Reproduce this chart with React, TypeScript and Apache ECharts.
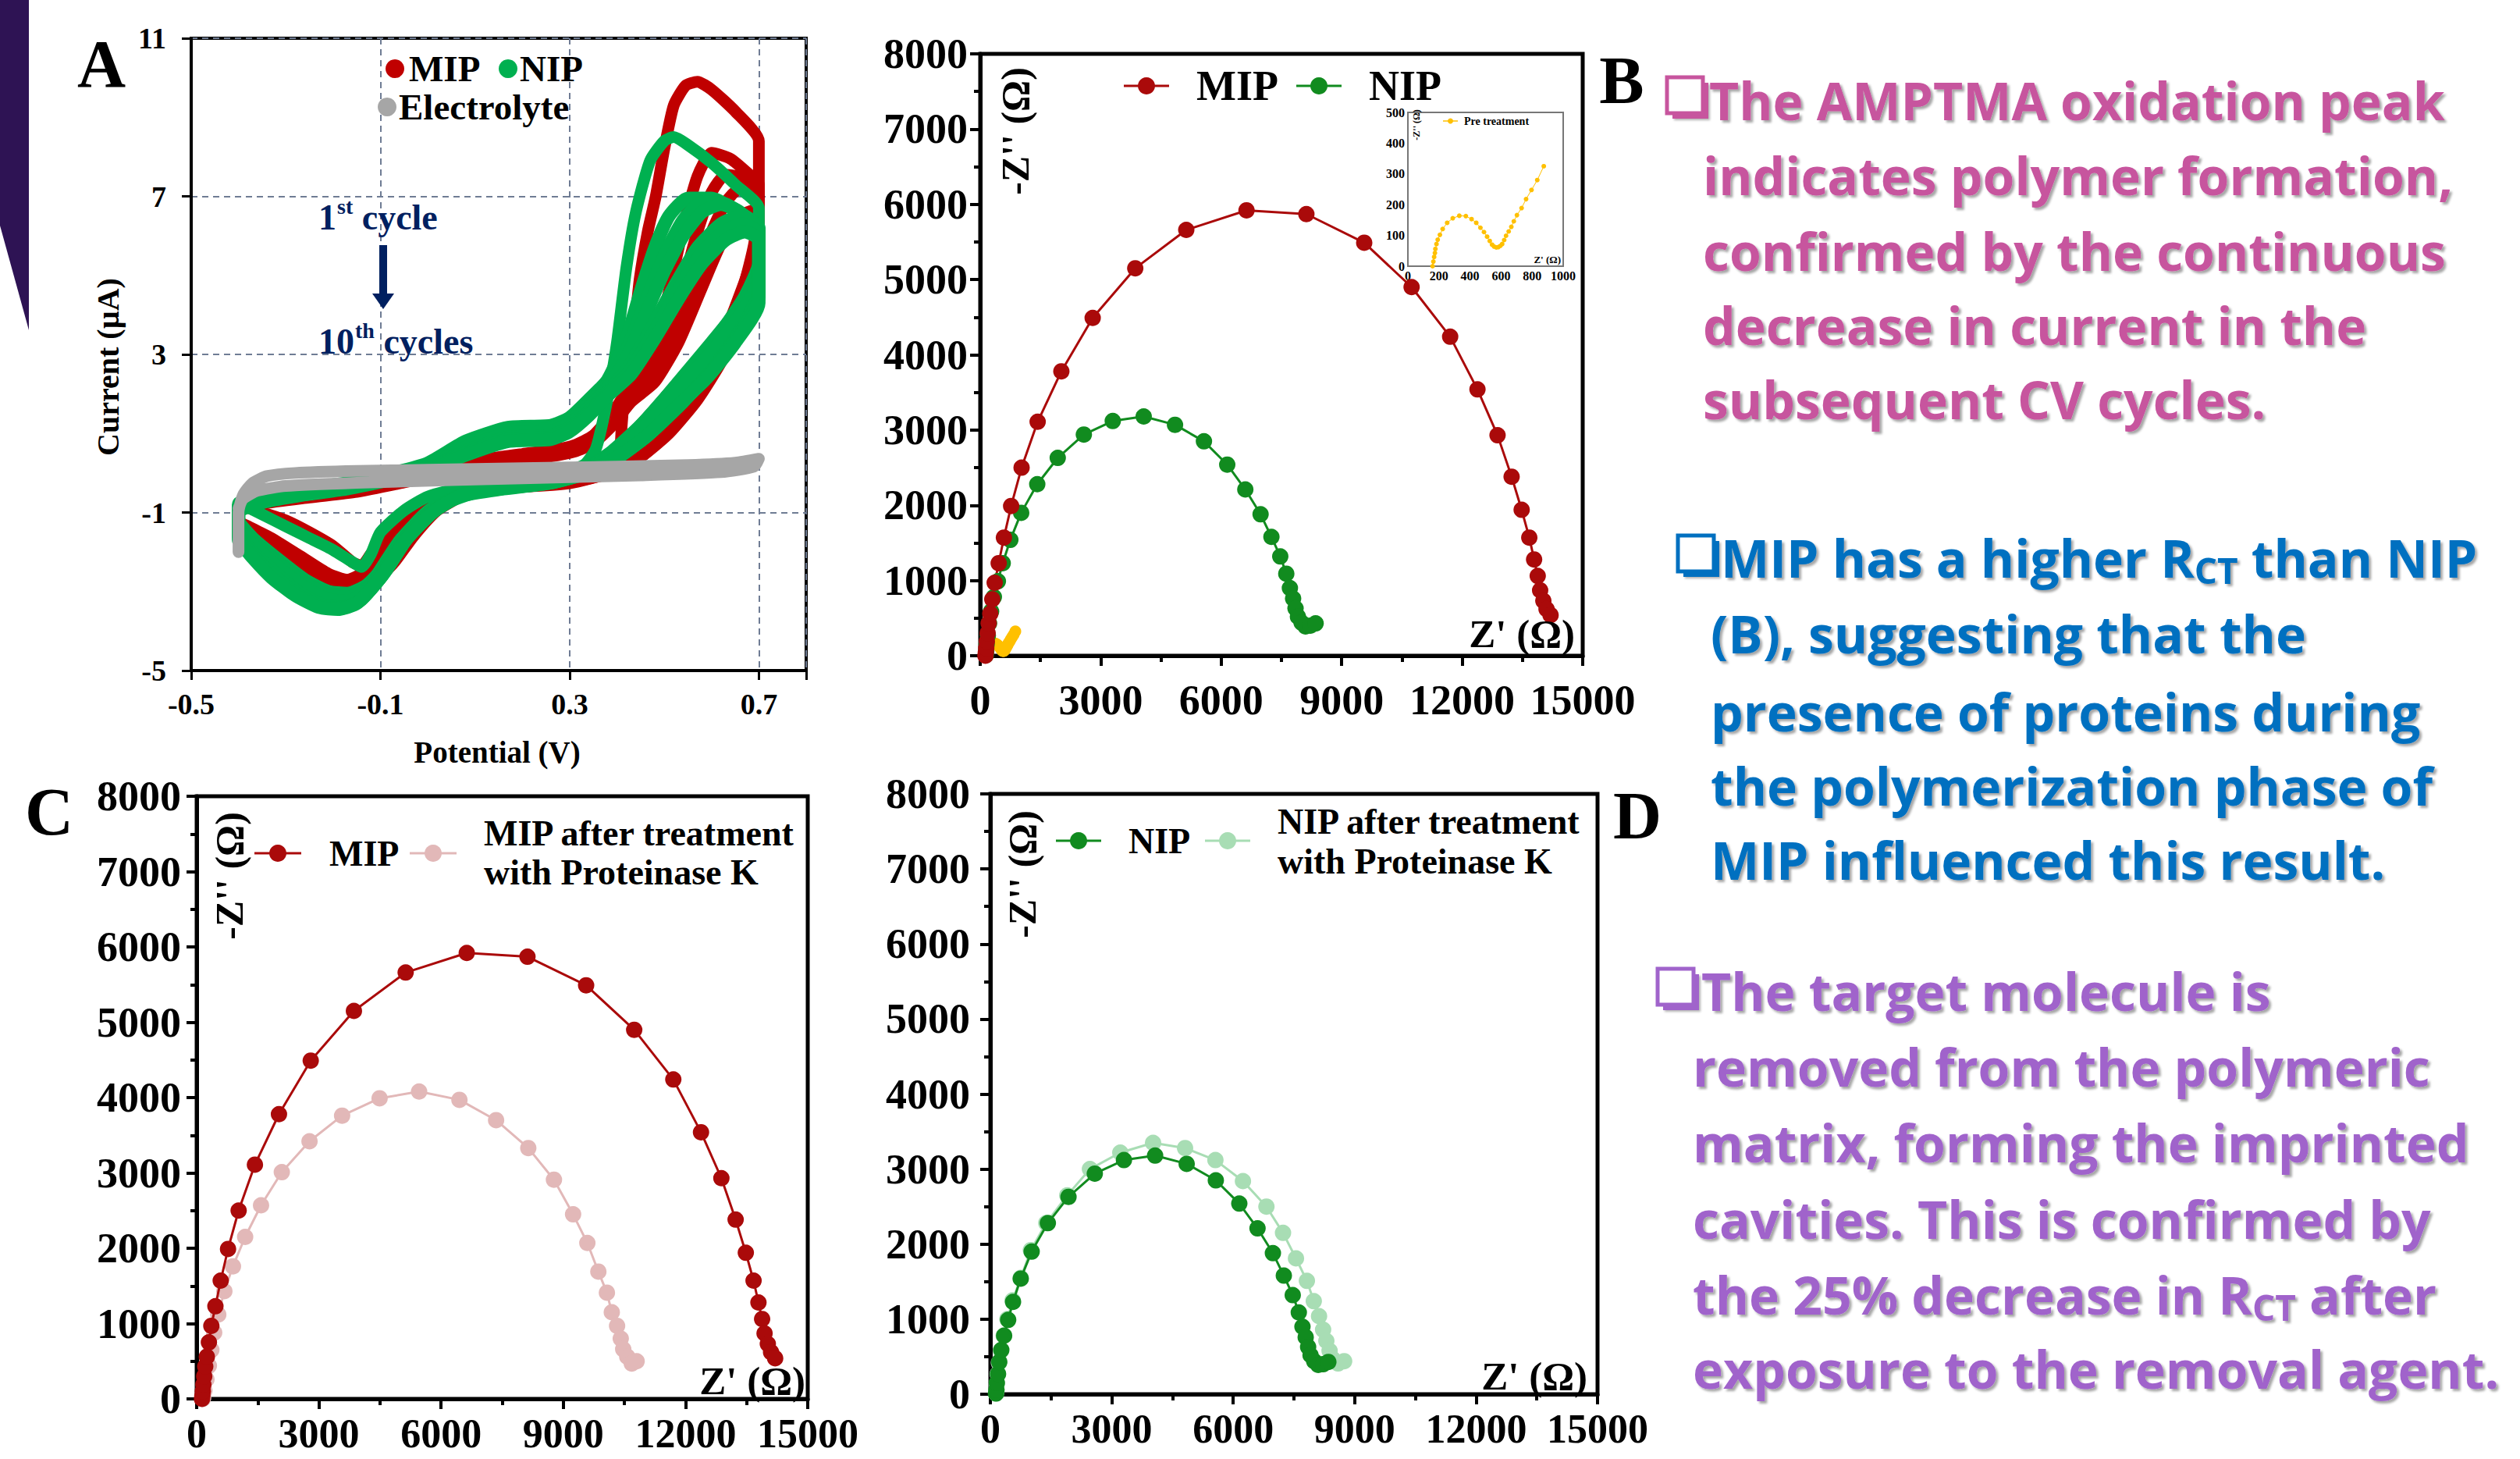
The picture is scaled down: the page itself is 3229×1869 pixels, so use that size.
import React, { useEffect, useRef } from "react";
import * as echarts from "echarts";

const SERIF = "'Liberation Serif', 'Times New Roman', serif";
const SANS = "'Open Sans', 'Noto Sans', sans-serif";

// ---------------- Panel A : cyclic voltammetry [Potential (V), Current (µA)] ----------------
const cvMipCycle1: number[][] = [
  [-0.40, -0.80], [-0.35, -1.00], [-0.30, -1.20], [-0.25, -1.50], [-0.20, -1.85], [-0.16, -2.25], [-0.14, -2.35],
  [-0.12, -2.05], [-0.08, -1.50], [-0.03, -0.95], [0.05, -0.50], [0.15, -0.25], [0.25, -0.05], [0.33, 0.10],
  [0.38, 0.25], [0.405, 0.50], [0.41, 1.20], [0.415, 1.90], [0.425, 2.50], [0.435, 3.40], [0.448, 4.90],
  [0.465, 6.10], [0.482, 7.00], [0.50, 8.20], [0.52, 9.30], [0.545, 9.80], [0.57, 9.90], [0.60, 9.70],
  [0.65, 9.15], [0.70, 8.40],
  [0.70, 7.00], [0.69, 5.80], [0.66, 4.40], [0.62, 3.30], [0.57, 2.30], [0.52, 1.50], [0.47, 0.80], [0.42, 0.30],
  [0.35, -0.05], [0.25, -0.25], [0.12, -0.38], [0.04, -0.55], [-0.02, -0.95], [-0.07, -1.55], [-0.11, -2.15],
  [-0.14, -2.55], [-0.17, -2.70], [-0.21, -2.55], [-0.27, -2.10], [-0.33, -1.65], [-0.38, -1.35], [-0.40, -1.20], [-0.40, -0.80],
];
const cvMipCycle2: number[][] = [
  [-0.40, -1.25], [-0.40, -0.85], [-0.35, -0.70], [-0.25, -0.55], [-0.15, -0.38], [-0.05, -0.10], [0.05, 0.15],
  [0.13, 0.36], [0.20, 0.48], [0.26, 0.57], [0.31, 0.70], [0.35, 0.95], [0.39, 1.50], [0.42, 2.05], [0.45, 2.40],
  [0.48, 3.10], [0.51, 4.60], [0.54, 6.20], [0.57, 7.50], [0.60, 8.10], [0.64, 7.95], [0.68, 7.55], [0.70, 7.30],
  [0.70, 6.30], [0.68, 5.20], [0.64, 3.90], [0.60, 2.90], [0.55, 1.90], [0.49, 1.00], [0.44, 0.40], [0.37, 0.00],
  [0.28, -0.22], [0.15, -0.33], [0.06, -0.50], [-0.01, -0.95], [-0.06, -1.60], [-0.10, -2.25], [-0.13, -2.65],
  [-0.17, -2.85], [-0.22, -2.70], [-0.28, -2.20], [-0.34, -1.75], [-0.38, -1.45], [-0.40, -1.25],
];
const cvMipCycle3: number[][] = [
  [-0.40, -1.35], [-0.40, -0.90], [-0.35, -0.72], [-0.25, -0.58], [-0.15, -0.42], [-0.05, -0.15], [0.05, 0.10],
  [0.13, 0.30], [0.20, 0.42], [0.26, 0.50], [0.31, 0.62], [0.35, 0.85], [0.39, 1.35], [0.42, 1.90], [0.46, 2.30],
  [0.50, 3.20], [0.54, 4.80], [0.57, 6.10], [0.60, 7.10], [0.63, 7.55], [0.67, 7.45], [0.70, 7.10],
  [0.70, 5.70], [0.68, 4.80], [0.65, 3.80], [0.61, 2.80], [0.56, 1.85], [0.50, 0.95], [0.45, 0.40], [0.38, 0.00],
  [0.29, -0.24], [0.16, -0.36], [0.07, -0.52], [0.00, -0.95], [-0.05, -1.60], [-0.09, -2.25], [-0.12, -2.65],
  [-0.16, -2.80], [-0.21, -2.65], [-0.27, -2.20], [-0.33, -1.80], [-0.38, -1.50], [-0.40, -1.35],
];
const cvMipCycle4: number[][] = [
  [-0.40, -1.40], [-0.40, -0.95], [-0.35, -0.75], [-0.25, -0.60], [-0.15, -0.45], [-0.05, -0.20], [0.05, 0.05],
  [0.13, 0.26], [0.20, 0.38], [0.26, 0.46], [0.31, 0.58], [0.35, 0.80], [0.39, 1.25], [0.43, 1.85], [0.47, 2.30],
  [0.52, 3.40], [0.56, 4.80], [0.60, 6.10], [0.63, 6.85], [0.66, 7.20], [0.70, 7.00],
  [0.70, 5.30], [0.67, 4.30], [0.63, 3.20], [0.58, 2.15], [0.52, 1.20], [0.46, 0.50], [0.40, 0.05], [0.30, -0.24],
  [0.17, -0.36], [0.08, -0.52], [0.01, -0.95], [-0.04, -1.60], [-0.08, -2.25], [-0.11, -2.65], [-0.15, -2.80],
  [-0.20, -2.70], [-0.26, -2.25], [-0.32, -1.85], [-0.38, -1.55], [-0.40, -1.40],
];
const cvMipCycle5: number[][] = [
  [-0.40, -1.45], [-0.40, -1.00], [-0.35, -0.78], [-0.25, -0.62], [-0.15, -0.48], [-0.05, -0.24], [0.05, 0.02],
  [0.13, 0.22], [0.20, 0.34], [0.26, 0.42], [0.31, 0.54], [0.35, 0.75], [0.39, 1.20], [0.43, 1.80], [0.48, 2.30],
  [0.53, 3.30], [0.58, 4.70], [0.62, 5.80], [0.66, 6.50], [0.70, 6.70],
  [0.70, 5.00], [0.66, 3.80], [0.62, 2.80], [0.57, 1.85], [0.51, 1.00], [0.45, 0.40], [0.39, 0.02], [0.30, -0.26],
  [0.17, -0.38], [0.08, -0.55], [0.02, -0.95], [-0.03, -1.60], [-0.07, -2.25], [-0.10, -2.60], [-0.14, -2.78],
  [-0.19, -2.70], [-0.25, -2.30], [-0.31, -1.90], [-0.37, -1.60], [-0.40, -1.45],
];

const cvNipCycle1: number[][] = [
  [-0.40, -0.75], [-0.35, -1.05], [-0.30, -1.35], [-0.25, -1.65], [-0.20, -1.95], [-0.16, -2.25], [-0.14, -2.38],
  [-0.12, -2.05], [-0.10, -1.50], [-0.05, -0.95], [0.00, -0.60], [0.08, -0.35], [0.18, -0.15], [0.27, 0.00],
  [0.33, 0.20], [0.355, 0.60], [0.37, 1.30], [0.385, 2.20], [0.40, 3.30], [0.42, 5.20], [0.44, 6.60], [0.47, 7.90],
  [0.50, 8.40], [0.52, 8.50], [0.55, 8.30], [0.60, 7.85], [0.65, 7.30], [0.70, 6.70],
  [0.70, 5.40], [0.67, 4.50], [0.62, 3.60], [0.56, 2.70], [0.50, 1.90], [0.44, 1.10], [0.38, 0.45], [0.33, 0.05],
  [0.25, -0.20], [0.15, -0.33], [0.06, -0.55], [0.00, -0.95], [-0.06, -1.70], [-0.11, -2.60], [-0.15, -3.20],
  [-0.19, -3.35], [-0.24, -3.15], [-0.30, -2.55], [-0.36, -1.90], [-0.40, -1.45], [-0.40, -0.75],
];
const cvNipCycle2: number[][] = [
  [-0.40, -1.25], [-0.40, -0.80], [-0.35, -0.58], [-0.26, -0.40], [-0.17, -0.25], [-0.09, -0.05], [0.00, 0.25],
  [0.08, 0.80], [0.17, 1.15], [0.26, 1.20], [0.30, 1.40], [0.34, 1.85], [0.38, 2.35], [0.42, 3.40], [0.45, 4.60],
  [0.48, 5.70], [0.51, 6.50], [0.55, 6.95], [0.60, 6.95], [0.65, 6.65], [0.70, 6.20],
  [0.70, 5.20], [0.67, 4.40], [0.63, 3.70], [0.58, 2.90], [0.52, 2.10], [0.45, 1.20], [0.39, 0.55], [0.34, 0.15],
  [0.28, -0.12], [0.18, -0.30], [0.09, -0.45], [0.02, -0.85], [-0.04, -1.50], [-0.09, -2.35], [-0.13, -2.85],
  [-0.17, -3.05], [-0.21, -3.00], [-0.26, -2.70], [-0.32, -2.15], [-0.37, -1.65], [-0.40, -1.25],
];
const cvNipCycle3: number[][] = [
  [-0.40, -1.30], [-0.40, -0.85], [-0.35, -0.62], [-0.26, -0.43], [-0.17, -0.28], [-0.09, -0.08], [0.00, 0.20],
  [0.08, 0.72], [0.17, 1.08], [0.26, 1.12], [0.30, 1.32], [0.34, 1.75], [0.38, 2.25], [0.42, 3.10], [0.46, 4.30],
  [0.50, 5.50], [0.54, 6.40], [0.58, 6.85], [0.63, 6.80], [0.67, 6.50], [0.70, 6.10],
  [0.70, 5.05], [0.66, 4.20], [0.60, 3.30], [0.53, 2.30], [0.47, 1.45], [0.41, 0.70], [0.35, 0.20], [0.29, -0.10],
  [0.20, -0.30], [0.10, -0.44], [0.03, -0.80], [-0.03, -1.45], [-0.085, -2.30], [-0.13, -2.95], [-0.17, -3.15],
  [-0.21, -3.10], [-0.26, -2.80], [-0.32, -2.25], [-0.37, -1.72], [-0.40, -1.30],
];
const cvNipCycle4: number[][] = [
  [-0.40, -1.40], [-0.40, -0.90], [-0.35, -0.65], [-0.26, -0.45], [-0.17, -0.30], [-0.09, -0.10], [0.00, 0.15],
  [0.08, 0.65], [0.17, 1.00], [0.26, 1.05], [0.30, 1.25], [0.34, 1.65], [0.38, 2.15], [0.42, 2.90], [0.46, 4.00],
  [0.50, 5.10], [0.54, 6.00], [0.58, 6.60], [0.62, 6.80], [0.66, 6.60], [0.70, 6.00],
  [0.70, 4.90], [0.66, 4.00], [0.61, 3.20], [0.55, 2.40], [0.49, 1.60], [0.43, 0.85], [0.37, 0.30], [0.31, -0.05],
  [0.22, -0.28], [0.12, -0.42], [0.04, -0.75], [-0.03, -1.40], [-0.08, -2.30], [-0.13, -3.00], [-0.17, -3.25],
  [-0.21, -3.20], [-0.26, -2.90], [-0.32, -2.35], [-0.37, -1.80], [-0.40, -1.40],
];
const cvNipCycle5: number[][] = [
  [-0.40, -1.55], [-0.40, -0.95], [-0.35, -0.70], [-0.26, -0.50], [-0.17, -0.35], [-0.09, -0.15], [0.00, 0.10],
  [0.08, 0.55], [0.17, 0.90], [0.26, 0.95], [0.30, 1.15], [0.34, 1.55], [0.38, 2.05], [0.42, 2.60], [0.47, 3.60],
  [0.52, 4.70], [0.57, 5.70], [0.62, 6.30], [0.66, 6.50], [0.70, 6.20],
  [0.70, 4.60], [0.66, 3.60], [0.60, 2.60], [0.54, 1.80], [0.47, 1.00], [0.41, 0.45], [0.35, 0.05], [0.27, -0.22],
  [0.17, -0.36], [0.08, -0.52], [0.02, -0.90], [-0.04, -1.60], [-0.09, -2.50], [-0.14, -3.20], [-0.18, -3.40],
  [-0.22, -3.35], [-0.27, -3.05], [-0.32, -2.55], [-0.37, -2.00], [-0.40, -1.55],
];
const cvNipCycle6: number[][] = [
  [-0.40, -1.62], [-0.40, -0.98], [-0.35, -0.72], [-0.26, -0.52], [-0.17, -0.38], [-0.09, -0.18], [0.00, 0.08],
  [0.08, 0.50], [0.17, 0.85], [0.26, 0.90], [0.30, 1.10], [0.34, 1.50], [0.38, 2.00], [0.425, 2.55], [0.475, 3.50],
  [0.525, 4.55], [0.575, 5.50], [0.625, 6.10], [0.665, 6.30], [0.70, 6.05],
  [0.70, 4.45], [0.655, 3.45], [0.595, 2.50], [0.53, 1.70], [0.465, 0.95], [0.405, 0.42], [0.345, 0.03], [0.265, -0.24],
  [0.165, -0.38], [0.075, -0.55], [0.015, -0.95], [-0.045, -1.68], [-0.095, -2.58], [-0.145, -3.25], [-0.185, -3.43],
  [-0.225, -3.38], [-0.275, -3.08], [-0.325, -2.60], [-0.37, -2.08], [-0.40, -1.62],
];
const cvNipCycle7: number[][] = [
  [-0.40, -1.70], [-0.40, -1.00], [-0.35, -0.75], [-0.26, -0.55], [-0.17, -0.40], [-0.09, -0.20], [0.00, 0.05],
  [0.08, 0.45], [0.17, 0.80], [0.26, 0.85], [0.30, 1.05], [0.34, 1.45], [0.38, 1.95], [0.43, 2.50], [0.48, 3.40],
  [0.53, 4.40], [0.58, 5.30], [0.63, 5.90], [0.67, 6.10], [0.70, 5.90],
  [0.70, 4.30], [0.65, 3.30], [0.59, 2.40], [0.52, 1.60], [0.46, 0.90], [0.40, 0.40], [0.34, 0.02], [0.26, -0.25],
  [0.16, -0.40], [0.07, -0.58], [0.01, -1.00], [-0.05, -1.75], [-0.10, -2.65], [-0.15, -3.30], [-0.19, -3.45],
  [-0.23, -3.40], [-0.28, -3.10], [-0.33, -2.65], [-0.37, -2.15], [-0.40, -1.70],
];
const cvElectrolyte: number[][] = [
  [-0.40, -2.00], [-0.40, -1.50], [-0.40, -1.00], [-0.39, -0.55], [-0.37, -0.25], [-0.34, -0.08], [-0.28, 0.00],
  [-0.15, 0.05], [0.00, 0.08], [0.20, 0.12], [0.40, 0.16], [0.55, 0.20], [0.65, 0.26], [0.70, 0.36],
  [0.69, 0.16], [0.62, 0.02], [0.45, -0.06], [0.25, -0.12], [0.05, -0.18], [-0.15, -0.25], [-0.30, -0.33],
  [-0.36, -0.45], [-0.39, -0.65], [-0.40, -0.90],
];
const cvPotentialTicks = [-0.5, -0.1, 0.3, 0.7];
const cvCurrentTicks = [-5, -1, 3, 7, 11];

// ---------------- Nyquist data [Z' (Ω), -Z'' (Ω)] ----------------
const mipImpedance: number[][] = [
  [130, 0], [140, 40], [150, 100], [165, 190], [185, 300], [210, 430], [250, 560], [300, 750], [360, 970],
  [460, 1230], [590, 1570], [770, 1990], [1030, 2500], [1430, 3110], [2020, 3780], [2800, 4490], [3860, 5150],
  [5130, 5660], [6630, 5920], [8120, 5870], [9560, 5490], [10740, 4900], [11700, 4240], [12380, 3540],
  [12880, 2930], [13230, 2380], [13480, 1940], [13670, 1570], [13790, 1280], [13880, 1060], [13940, 870],
  [14020, 730], [14100, 620], [14200, 540],
];
const nipImpedance: number[][] = [
  [140, 10], [150, 60], [160, 150], [190, 270], [220, 430], [270, 590], [340, 780], [440, 990], [560, 1230],
  [750, 1540], [1020, 1900], [1420, 2280], [1930, 2630], [2580, 2940], [3300, 3120], [4070, 3180], [4850, 3070],
  [5570, 2850], [6150, 2540], [6600, 2210], [6980, 1880], [7250, 1580], [7470, 1320], [7620, 1090], [7710, 900],
  [7790, 760], [7850, 630], [7910, 520], [8000, 440], [8100, 390], [8220, 400], [8350, 430],
];
const mipAfterProteinaseK: number[][] = [
  [150, 0], [160, 20], [190, 110], [240, 260], [300, 440], [360, 650], [430, 880], [530, 1120], [680, 1430],
  [890, 1760], [1190, 2150], [1580, 2570], [2090, 3010], [2770, 3420], [3570, 3760], [4490, 3990], [5460, 4080],
  [6450, 3970], [7350, 3700], [8140, 3330], [8770, 2910], [9240, 2450], [9590, 2070], [9860, 1690], [10070, 1410],
  [10190, 1150], [10320, 970], [10410, 800], [10470, 660], [10570, 560], [10680, 470], [10800, 500],
];
const nipAfterProteinaseK: number[][] = [
  [140, 10], [150, 40], [160, 140], [180, 270], [210, 420], [260, 580], [330, 780], [420, 1000], [550, 1250],
  [750, 1550], [1000, 1920], [1380, 2280], [1900, 2650], [2460, 3000], [3210, 3220], [4020, 3350], [4810, 3280],
  [5560, 3120], [6240, 2840], [6820, 2500], [7230, 2150], [7550, 1810], [7820, 1510], [7990, 1240], [8120, 1040],
  [8220, 860], [8300, 710], [8380, 580], [8460, 470], [8590, 410], [8740, 440],
];
const preTreatment: number[][] = [
  [159, 0], [164, 15], [169, 30], [174, 43], [177, 56], [184, 72], [192, 86], [206, 102], [224, 121], [253, 141],
  [289, 156], [331, 164], [373, 163], [410, 153], [440, 141], [467, 125], [490, 111], [510, 96], [527, 82],
  [542, 70], [555, 64], [569, 61], [582, 62], [595, 66], [607, 72], [620, 85], [632, 99], [649, 113], [666, 128],
  [682, 146], [702, 166], [732, 189], [761, 218], [796, 248], [833, 280], [875, 325],
];

// ---------------- Notes (right column) ----------------
const note1Lines = [
  "The AMPTMA oxidation peak",
  "indicates polymer formation,",
  "confirmed by the continuous",
  "decrease in current in the",
  "subsequent CV cycles.",
];
const note2Lines = [
  "MIP has a higher R_{CT} than NIP",
  "(B), suggesting that the",
  "presence of proteins during",
  "the polymerization phase of",
  "MIP influenced this result.",
];
const note3Lines = [
  "The target molecule is",
  "removed from the polymeric",
  "matrix, forming the imprinted",
  "cavities. This is confirmed by",
  "the 25% decrease in R_{CT} after",
  "exposure to the removal agent.",
];

// ---------------- colours ----------------
const C_MIP_CV = "#C00000";
const C_NIP_CV = "#00B050";
const C_ELEC = "#A6A6A6";
const C_MIP = "#AA0A0A";
const C_NIP = "#118B1F";
const C_MIP_T = "#E2B8B8";
const C_NIP_T = "#A8DDB4";
const C_YEL = "#FFC000";
const C_NAVY = "#002060";
const C_PINK = "#C7559E";
const C_BLUE = "#0070C0";
const C_PURPLE = "#A064CB";

let measureCtx: CanvasRenderingContext2D | null = null;
function measure(text: string, font: string): number {
  if (!measureCtx) measureCtx = document.createElement("canvas").getContext("2d");
  if (!measureCtx) return text.length * 30;
  measureCtx.font = font;
  return measureCtx.measureText(text).width;
}

function serifText(text: string, x: number, y: number, size: number, opts: any = {}) {
  return {
    type: "text",
    x,
    y,
    rotation: opts.rotation || 0,
    z: 100,
    style: {
      text,
      fill: opts.color || "#000",
      fontSize: size,
      fontWeight: "bold",
      fontFamily: SERIF,
      align: opts.align || "left",
      verticalAlign: opts.verticalAlign || "middle",
      textAlign: opts.align || "left",
      textVerticalAlign: opts.verticalAlign || "middle",
    },
  };
}

// text with sub (_{..}) handled through measured advances
function noteLine(str: string, x: number, y: number, color: string, size: number) {
  const parts = str.split(/_\{|\}/);
  const out: any[] = [];
  let cx = x;
  parts.forEach((p, i) => {
    const sub = i % 2 === 1;
    const fs = sub ? Math.round(size * 0.7) : size;
    const font = `bold ${fs}px ${SANS}`;
    const lead = p.length - p.replace(/^\s+/, "").length;
    const leadW = lead ? measure(p.slice(0, lead), font) : 0;
    const trimmed = p.trim();
    if (trimmed) {
      out.push({
        type: "text",
        x: cx + leadW,
        y: y + (sub ? size * 0.24 : 0),
        z: 100,
        style: {
          text: trimmed,
          fill: color,
          fontSize: fs,
          fontWeight: "bold",
          fontFamily: SANS,
          align: "left",
          verticalAlign: "middle",
          textShadowColor: "rgba(0,0,0,0.35)",
          textShadowBlur: 3,
          textShadowOffsetX: 3,
          textShadowOffsetY: 3,
        },
      });
    }
    cx += measure(p, font);
  });
  return out;
}

function bullet(x: number, y: number, color: string) {
  return [
    { type: "rect", z: 99, shape: { x: x + 7, y: y + 7, width: 46, height: 46 }, style: { fill: color, shadowColor: "rgba(0,0,0,0.3)", shadowBlur: 3, shadowOffsetX: 2, shadowOffsetY: 2 } },
    { type: "rect", z: 100, shape: { x, y, width: 46, height: 46 }, style: { fill: "#fff", stroke: color, lineWidth: 5 } },
  ];
}

function supText(base: string, sup: string, rest: string, x: number, y: number, size: number, color: string) {
  const f1 = `bold ${size}px ${SERIF}`;
  const fs = Math.round(size * 0.6);
  const f2 = `bold ${fs}px ${SERIF}`;
  const w1 = measure(base, f1);
  const w2 = measure(sup, f2);
  const sp = measure(" ", f1);
  return [
    serifText(base, x, y, size, { color }),
    serifText(sup, x + w1 + 1, y - size * 0.3, fs, { color }),
    serifText(rest, x + w1 + w2 + sp + 1, y, size, { color }),
  ];
}

function legendItem(x1: number, x2: number, y: number, color: string, r: number, lw: number) {
  return [
    { type: "line", z: 100, shape: { x1, y1: y, x2, y2: y }, style: { stroke: color, lineWidth: lw } },
    { type: "circle", z: 101, shape: { cx: (x1 + x2) / 2, cy: y, r }, style: { fill: color } },
  ];
}

const plain = (v: number) => String(v);

export default function App() {
  const ref = useRef<HTMLDivElement>(null);

  useEffect(() => {
    document.body.style.margin = "0";
    if (!ref.current) return;
    const chart = echarts.init(ref.current, undefined, { renderer: "svg" });

    const X0 = cvPotentialTicks[0];
    const Y0 = cvCurrentTicks[0];
    const xStep = cvPotentialTicks[1] - cvPotentialTicks[0];
    const yStep = cvCurrentTicks[1] - cvCurrentTicks[0];
    const xSpan = 0.8 - X0;
    const ySpan = cvCurrentTicks[cvCurrentTicks.length - 1] - Y0;
    const shiftCv = (arr: number[][]) => arr.map(([v, i]) => [v - X0, i - Y0]);

    const tickLabel = (size: number, margin: number) => ({
      color: "#000",
      fontFamily: SERIF,
      fontWeight: "bold",
      fontSize: size,
      margin,
      formatter: plain,
    });

    const nyqX = (gridIndex: number, size: number, margin: number) => ({
      gridIndex,
      type: "value",
      min: 0,
      max: 15000,
      interval: 3000,
      axisLine: { show: true, onZero: false, lineStyle: { color: "#000", width: 5 } },
      axisTick: { show: true, inside: false, length: 13, lineStyle: { color: "#000", width: 4 } },
      minorTick: { show: true, splitNumber: 2, length: 8, lineStyle: { color: "#000", width: 4 } },
      axisLabel: tickLabel(size, margin),
      splitLine: { show: false },
    });
    const nyqY = (gridIndex: number, margin: number) => ({
      gridIndex,
      type: "value",
      min: 0,
      max: 8000,
      interval: 1000,
      axisLine: { show: true, onZero: false, lineStyle: { color: "#000", width: 5 } },
      axisTick: { show: true, inside: false, length: 13, lineStyle: { color: "#000", width: 4 } },
      minorTick: { show: true, splitNumber: 2, length: 8, lineStyle: { color: "#000", width: 4 } },
      axisLabel: tickLabel(54, margin),
      splitLine: { show: false },
    });

    const cvLine = (name: string, data: number[][], color: string, width: number) => ({
      name,
      type: "line",
      xAxisIndex: 0,
      yAxisIndex: 0,
      data: shiftCv(data),
      showSymbol: false,
      symbol: "none",
      smooth: 0.2,
      lineStyle: { color, width, cap: "round", join: "round" },
      itemStyle: { color },
      z: 3,
    });

    const nyq = (name: string, data: number[][], idx: number, color: string, size: number, lw: number, z = 3) => ({
      name,
      type: "line",
      xAxisIndex: idx,
      yAxisIndex: idx,
      data,
      symbol: "circle",
      symbolSize: size,
      showSymbol: true,
      lineStyle: { color, width: lw },
      itemStyle: { color },
      z,
    });

    const graphics: any[] = [];
    // left decorative shape
    graphics.push({ type: "polygon", z: 50, shape: { points: [[0, 0], [37, 0], [37, 423], [0, 289]] }, style: { fill: "#2E1354" } });

    // panel letters
    graphics.push(serifText("A", 130, 82, 86, { align: "center" }));
    graphics.push(serifText("B", 2078, 103, 86, { align: "center" }));
    graphics.push(serifText("C", 63, 1040, 86, { align: "center" }));
    graphics.push(serifText("D", 2098, 1045, 86, { align: "center" }));

    // Panel A legend + annotations + axis names
    graphics.push({ type: "circle", z: 101, shape: { cx: 506, cy: 88, r: 12 }, style: { fill: C_MIP_CV } });
    graphics.push(serifText("MIP", 524, 88, 47));
    graphics.push({ type: "circle", z: 101, shape: { cx: 651, cy: 88, r: 12 }, style: { fill: C_NIP_CV } });
    graphics.push(serifText("NIP", 666, 88, 47));
    graphics.push({ type: "circle", z: 101, shape: { cx: 496, cy: 137, r: 12 }, style: { fill: C_ELEC } });
    graphics.push(serifText("Electrolyte", 511, 137, 47));
    graphics.push(...supText("1", "st", "cycle", 408, 278, 46, C_NAVY));
    graphics.push(...supText("10", "th", "cycles", 408, 437, 46, C_NAVY));
    graphics.push({ type: "rect", z: 100, shape: { x: 486, y: 314, width: 10, height: 64 }, style: { fill: C_NAVY } });
    graphics.push({ type: "polygon", z: 100, shape: { points: [[477, 376], [505, 376], [491, 396]] }, style: { fill: C_NAVY } });
    graphics.push(serifText("Potential (V)", 637, 963, 39, { align: "center" }));
    graphics.push(serifText("Current (µA)", 138, 470, 40, { align: "center", rotation: Math.PI / 2 }));

    // Panel B legend / labels
    graphics.push(...legendItem(1440, 1498, 110, C_MIP, 11, 3));
    graphics.push(serifText("MIP", 1533, 110, 54));
    graphics.push(...legendItem(1661, 1719, 110, C_NIP, 11, 3));
    graphics.push(serifText("NIP", 1754, 110, 54));
    graphics.push(serifText("-Z'' (Ω)", 1301, 168, 50, { align: "center", rotation: Math.PI / 2 }));
    graphics.push(serifText("Z' (Ω)", 2018, 812, 51, { align: "right" }));
    // inset labels
    graphics.push(serifText("-Z'' (Ω)", 1815, 160, 12, { align: "center", rotation: Math.PI / 2 }));
    graphics.push(...legendItem(1849, 1868, 155, C_YEL, 3.5, 1.5));
    graphics.push(serifText("Pre treatment", 1876, 155, 14));
    graphics.push(serifText("Z' (Ω)", 2000, 332, 13, { align: "right" }));

    // Panel C legend / labels
    graphics.push(...legendItem(326, 386, 1093, C_MIP, 11, 3));
    graphics.push(serifText("MIP", 422, 1093, 46));
    graphics.push(...legendItem(525, 585, 1093, C_MIP_T, 11, 3));
    graphics.push(serifText("MIP after treatment", 620, 1067, 46));
    graphics.push(serifText("with Proteinase K", 620, 1117, 46));
    graphics.push(serifText("-Z'' (Ω)", 294, 1122, 50, { align: "center", rotation: Math.PI / 2 }));
    graphics.push(serifText("Z' (Ω)", 1032, 1769, 51, { align: "right" }));

    // Panel D legend / labels
    graphics.push(...legendItem(1353, 1411, 1077, C_NIP, 11, 3));
    graphics.push(serifText("NIP", 1446, 1077, 46));
    graphics.push(...legendItem(1544, 1602, 1077, C_NIP_T, 11, 3));
    graphics.push(serifText("NIP after treatment", 1637, 1052, 46));
    graphics.push(serifText("with Proteinase K", 1637, 1103, 46));
    graphics.push(serifText("-Z'' (Ω)", 1310, 1120, 50, { align: "center", rotation: Math.PI / 2 }));
    graphics.push(serifText("Z' (Ω)", 2034, 1763, 51, { align: "right" }));

    // notes
    const FS = 66;
    const n1y = [128, 224, 321, 416, 511];
    const n2y = [714, 811, 911, 1006, 1101];
    const n3y = [1269, 1366, 1463, 1561, 1658, 1753];
    graphics.push(...bullet(2136, 99, C_PINK));
    note1Lines.forEach((l, i) => graphics.push(...noteLine(l, i === 0 ? 2190 : 2182, n1y[i], C_PINK, FS)));
    graphics.push(...bullet(2150, 686, C_BLUE));
    note2Lines.forEach((l, i) => graphics.push(...noteLine(l, i === 0 ? 2205 : 2192, n2y[i], C_BLUE, FS)));
    graphics.push(...bullet(2124, 1241, C_PURPLE));
    note3Lines.forEach((l, i) => graphics.push(...noteLine(l, i === 0 ? 2180 : 2169, n3y[i], C_PURPLE, FS)));

    const option: any = {
      animation: false,
      backgroundColor: "#fff",
      grid: [
        { left: 245, top: 49, width: 788, height: 810, show: true, borderColor: "#000", borderWidth: 4, backgroundColor: "transparent" },
        { left: 1256, top: 69, width: 772, height: 771, show: true, borderColor: "#000", borderWidth: 5, backgroundColor: "transparent" },
        { left: 1804, top: 144, width: 199, height: 197, show: true, borderColor: "#777", borderWidth: 2, backgroundColor: "#fff", z: 5 },
        { left: 252, top: 1020, width: 783, height: 772, show: true, borderColor: "#000", borderWidth: 5, backgroundColor: "transparent" },
        { left: 1269, top: 1017, width: 778, height: 769, show: true, borderColor: "#000", borderWidth: 5, backgroundColor: "transparent" },
      ],
      xAxis: [
        {
          gridIndex: 0,
          type: "value",
          min: 0,
          max: xSpan,
          interval: xStep,
          axisLine: { show: true, onZero: false, lineStyle: { color: "#000", width: 4 } },
          axisTick: { show: true, inside: false, length: 12, lineStyle: { color: "#000", width: 3 } },
          axisLabel: {
            ...tickLabel(38, 24),
            formatter: (v: number) => (v > xSpan - 0.05 ? "" : (v + X0).toFixed(1)),
          },
          splitLine: { show: true, lineStyle: { color: "#6F7C94", width: 2, type: [8, 6] } },
        },
        nyqX(1, 54, 30),
        {
          gridIndex: 2,
          type: "value",
          min: 0,
          max: 1000,
          interval: 200,
          axisLine: { show: true, onZero: false, lineStyle: { color: "#000", width: 1.5 } },
          axisTick: { show: true, inside: true, length: 4, lineStyle: { color: "#000", width: 1 } },
          minorTick: { show: true, splitNumber: 2, length: 2, lineStyle: { color: "#000", width: 1 } },
          axisLabel: tickLabel(16, 4),
          splitLine: { show: false },
        },
        nyqX(3, 52, 18),
        nyqX(4, 52, 18),
      ],
      yAxis: [
        {
          gridIndex: 0,
          type: "value",
          min: 0,
          max: ySpan,
          interval: yStep,
          axisLine: { show: true, onZero: false, lineStyle: { color: "#000", width: 4 } },
          axisTick: { show: true, inside: false, length: 12, lineStyle: { color: "#000", width: 3 } },
          axisLabel: { ...tickLabel(38, 32), formatter: (v: number) => String(Math.round(v + Y0)) },
          splitLine: { show: true, lineStyle: { color: "#6F7C94", width: 2, type: [8, 6] } },
        },
        nyqY(1, 16),
        {
          gridIndex: 2,
          type: "value",
          min: 0,
          max: 500,
          interval: 100,
          axisLine: { show: true, onZero: false, lineStyle: { color: "#000", width: 1.5 } },
          axisTick: { show: true, inside: true, length: 4, lineStyle: { color: "#000", width: 1 } },
          minorTick: { show: true, splitNumber: 2, length: 2, lineStyle: { color: "#000", width: 1 } },
          axisLabel: tickLabel(16, 4),
          splitLine: { show: false },
        },
        nyqY(3, 20),
        nyqY(4, 26),
      ],
      series: [
        cvLine("MIP cycle 1", cvMipCycle1, C_MIP_CV, 15),
        cvLine("MIP cycle 2", cvMipCycle2, C_MIP_CV, 15),
        cvLine("MIP cycle 3", cvMipCycle3, C_MIP_CV, 15),
        cvLine("MIP cycle 4", cvMipCycle4, C_MIP_CV, 15),
        cvLine("MIP cycle 5", cvMipCycle5, C_MIP_CV, 15),
        cvLine("NIP cycle 1", cvNipCycle1, C_NIP_CV, 15),
        cvLine("NIP cycle 2", cvNipCycle2, C_NIP_CV, 17),
        cvLine("NIP cycle 3", cvNipCycle3, C_NIP_CV, 17),
        cvLine("NIP cycle 4", cvNipCycle4, C_NIP_CV, 17),
        cvLine("NIP cycle 5", cvNipCycle5, C_NIP_CV, 17),
        cvLine("NIP cycle 6", cvNipCycle6, C_NIP_CV, 17),
        cvLine("NIP cycle 7", cvNipCycle7, C_NIP_CV, 17),
        cvLine("Electrolyte", cvElectrolyte, C_ELEC, 15),
        nyq("Pre treatment main", preTreatment, 1, C_YEL, 15, 3, 3),
        nyq("NIP", nipImpedance, 1, C_NIP, 21, 3, 4),
        nyq("MIP", mipImpedance, 1, C_MIP, 21, 3, 4),
        nyq("Pre treatment", preTreatment, 2, C_YEL, 6, 1, 6),
        nyq("MIP after treatment with Proteinase K", mipAfterProteinaseK, 3, C_MIP_T, 21, 3, 3),
        nyq("MIP ", mipImpedance, 3, C_MIP, 21, 3, 4),
        nyq("NIP after treatment with Proteinase K", nipAfterProteinaseK, 4, C_NIP_T, 21, 3, 3),
        nyq("NIP ", nipImpedance, 4, C_NIP, 21, 3, 4),
      ],
      graphic: graphics,
    };

    chart.setOption(option);
    return () => chart.dispose();
  }, []);

  return <div ref={ref} style={{ width: 3229, height: 1869 }} />;
}
